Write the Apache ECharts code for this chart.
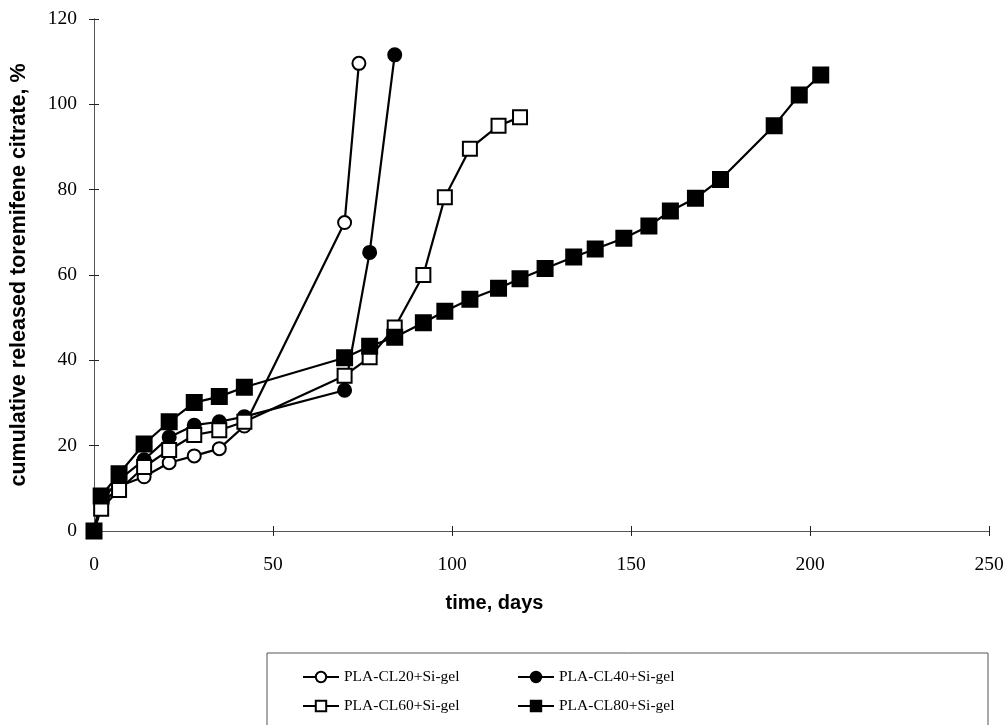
<!DOCTYPE html>
<html>
<head>
<meta charset="utf-8">
<script src="https://cdn.jsdelivr.net/npm/echarts@6/dist/echarts.min.js"></script>
<style>
    html, body { margin: 0; padding: 0; background: #fff; }
    #chart { width: 1007px; height: 725px; }
</style>
</head>
<body>
<div id="chart"></div>
<script>
// data: [day, cumulative release %]
var cl20 = [[0, 0], [2, 6], [7, 10.5], [14, 12.7], [21, 16], [28, 17.6], [35, 19.3], [42, 24.6], [70, 72.3], [74, 109.6]];
var cl40 = [[0, 0], [2, 7], [7, 12], [14, 16.7], [21, 22], [28, 24.8], [35, 25.6], [42, 26.8], [70, 33], [77, 65.3], [84, 111.6]];
var cl60 = [[0, 0], [2, 5.2], [7, 9.6], [14, 15], [21, 19], [28, 22.5], [35, 23.6], [42, 25.6], [70, 36.4], [77, 40.7],
    [84, 47.7], [92, 60], [98, 78.2], [105, 89.6], [113, 95], [119, 97]];
var cl80 = [[0, 0], [2, 8.2], [7, 13.4], [14, 20.4], [21, 25.6], [28, 30.1], [35, 31.5], [42, 33.7], [70, 40.6], [77, 43.3],
    [84, 45.4], [92, 48.8], [98, 51.5], [105, 54.3], [113, 56.9], [119, 59.1], [126, 61.5], [134, 64.2], [140, 66.1],
    [148, 68.6], [155, 71.5], [161, 75], [168, 78], [175, 82.4], [190, 95], [197, 102.2], [203, 106.9]];

var seriesNames = ['PLA-CL20+Si-gel', 'PLA-CL40+Si-gel', 'PLA-CL60+Si-gel', 'PLA-CL80+Si-gel'];
var xTicks = [0, 50, 100, 150, 200, 250];
var yTicks = [0, 20, 40, 60, 80, 100, 120];

var chart = echarts.init(document.getElementById('chart'));

var serif = '"Liberation Serif", "Times New Roman", serif';
var sans = '"Liberation Sans", Arial, sans-serif';
var axisColor = '#555';

function valueAxis(extra, ticks, showLabel, inside, margin) {
    return Object.assign({
        type: 'value',
        min: ticks[0],
        max: ticks[ticks.length - 1],
        interval: ticks[1] - ticks[0],
        splitLine: { show: false },
        axisLine: { show: true, onZero: false, lineStyle: { color: axisColor, width: 1 } },
        axisTick: { show: true, inside: inside, length: 5, lineStyle: { color: '#222' } },
        axisLabel: { show: showLabel, margin: margin, color: '#000', fontFamily: serif, fontSize: 19.5 }
    }, extra);
}

function genSeries(name, data, symbol, filled, size) {
    return {
        name: name,
        type: 'line',
        data: data,
        symbol: symbol,
        symbolSize: size,
        showAllSymbol: true,
        lineStyle: { color: '#000', width: 2.2 },
        itemStyle: { color: filled ? '#000' : '#fff', borderColor: '#000', borderWidth: 2 },
        emphasis: { disabled: true },
        animation: false
    };
}

var legendText = { fontFamily: serif, fontSize: 15.5, color: '#000' };

chart.setOption({
    animation: false,
    grid: { left: 94, right: 18, top: 19, bottom: 194, containLabel: false },
    xAxis: [
        valueAxis({
            position: 'bottom',
            name: 'time, days',
            nameLocation: 'middle',
            nameGap: 62,
            nameTextStyle: { fontFamily: sans, fontWeight: 'bold', fontSize: 20, color: '#000', padding: [0, 94, 0, 0] }
        }, xTicks, true, false, 24),
        valueAxis({ position: 'bottom' }, xTicks, false, true, 24)
    ],
    yAxis: [
        valueAxis({
            position: 'left',
            name: 'cumulative released toremifene citrate, %',
            nameLocation: 'middle',
            nameGap: 64,
            nameTextStyle: { fontFamily: sans, fontWeight: 'bold', fontSize: 21.5, color: '#000' }
        }, yTicks, true, false, 17),
        valueAxis({ position: 'left' }, yTicks, false, true, 17)
    ],
    legend: [{
        orient: 'vertical',
        left: 297,
        top: 664,
        itemWidth: 36,
        itemHeight: 13,
        itemGap: 13,
        data: [seriesNames[0], seriesNames[2]],
        textStyle: legendText
    }, {
        orient: 'vertical',
        left: 512,
        top: 664,
        itemWidth: 36,
        itemHeight: 13,
        itemGap: 13,
        data: [seriesNames[1], seriesNames[3]],
        textStyle: legendText
    }],
    graphic: [{
        type: 'rect',
        shape: { x: 267, y: 653, width: 721, height: 100 },
        style: { fill: 'none', stroke: '#555', lineWidth: 1 }
    }],
    series: [
        genSeries(seriesNames[0], cl20, 'circle', false, 13),
        genSeries(seriesNames[1], cl40, 'circle', true, 13),
        genSeries(seriesNames[2], cl60, 'rect', false, 14),
        genSeries(seriesNames[3], cl80, 'rect', true, 15)
    ]
});
</script>
</body>
</html>
